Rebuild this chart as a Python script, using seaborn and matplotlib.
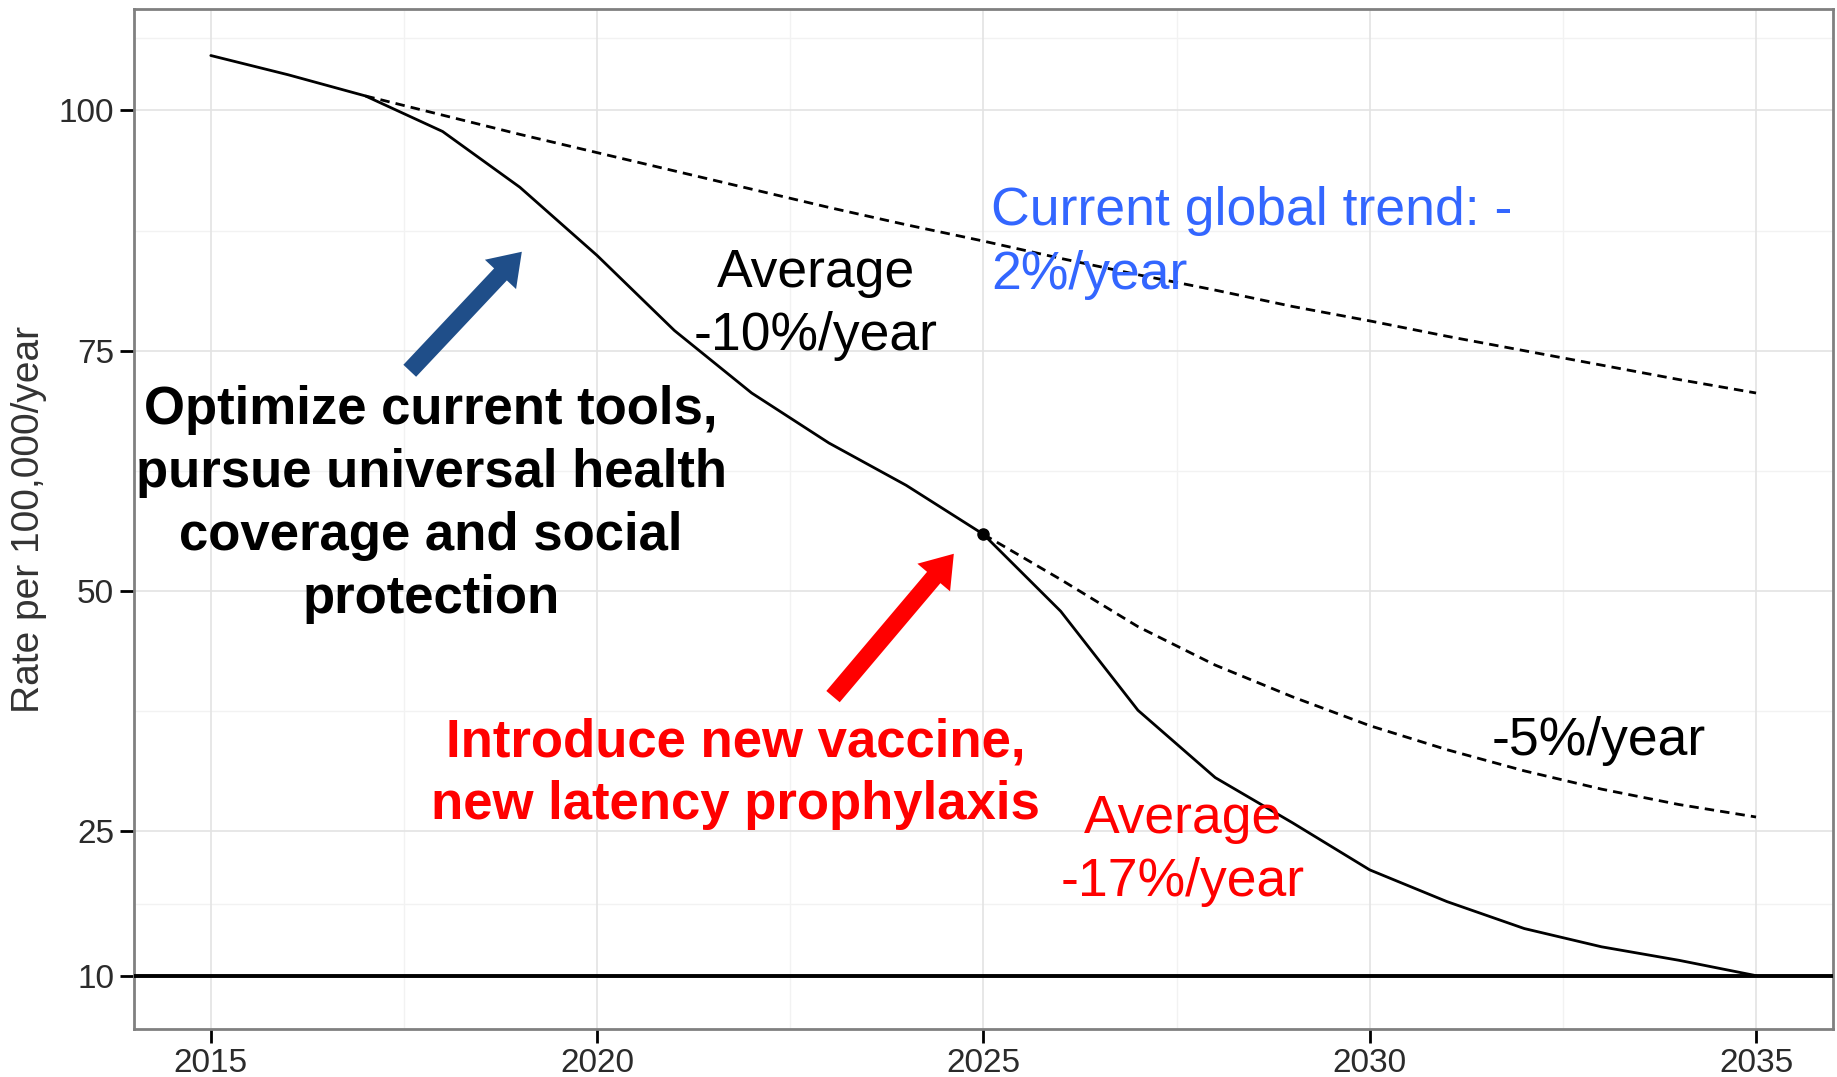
import numpy as np
import pandas as pd
import seaborn as sns
import matplotlib.pyplot as plt
from matplotlib.patches import FancyArrowPatch

# values
years = list(range(2015, 2036))
scenario_rate = [105.7, 103.7, 101.5, 97.8, 92.0, 84.9, 77.1, 70.6, 65.4, 61.0, 55.9,
                 47.9, 37.6, 30.6, 25.9, 21.0, 17.7, 14.9, 13.0, 11.6, 10.0]

trend_years = list(range(2017, 2036))
trend_rate = [101.5, 99.5, 97.5, 95.6, 93.7, 91.8, 89.9, 88.1, 86.4, 84.6,
              82.9, 81.3, 79.6, 78.1, 76.5, 75.0, 73.5, 72.0, 70.6]

mid_years = list(range(2025, 2036))
mid_rate = [55.9, 51.2, 46.3, 42.3, 39.0, 36.0, 33.5, 31.3, 29.4, 27.8, 26.5]

target = 10
y_ticks = [10, 25, 50, 75, 100]
x_ticks = [2015, 2020, 2025, 2030, 2035]

df_main = pd.DataFrame({'Year': years, 'Rate': scenario_rate})
df_trend = pd.DataFrame({'Year': trend_years, 'Rate': trend_rate})
df_mid = pd.DataFrame({'Year': mid_years, 'Rate': mid_rate})

sns.set_theme(style="whitegrid")
plt.rcParams['font.family'] = ['Liberation Sans', 'DejaVu Sans']

fig = plt.figure(figsize=(18.37, 10.77), dpi=100)
ax = fig.add_axes([0.0727, 0.045, 0.9253, 0.9463])

# grid (major + minor like ggplot)
ax.set_axisbelow(True)
for v in [17.5, 37.5, 62.5, 87.5, 107.5]:
    ax.axhline(v, color='#F2F2F2', lw=1.0, zorder=0)
for v in [2017.5, 2022.5, 2027.5, 2032.5]:
    ax.axvline(v, color='#F2F2F2', lw=1.0, zorder=0)

dash = (0, (3.4, 2.2))
sns.lineplot(data=df_trend, x='Year', y='Rate', ax=ax, color='black', lw=2.0, linestyle=dash)
sns.lineplot(data=df_mid, x='Year', y='Rate', ax=ax, color='black', lw=2.0, linestyle=dash)
sns.lineplot(data=df_main, x='Year', y='Rate', ax=ax, color='black', lw=2.0)
ax.axhline(target, color='black', lw=2.8, zorder=3)
ax.plot([2025], [scenario_rate[years.index(2025)]], 'o', color='black', ms=8, zorder=4)

ax.set_xlim(2014.0, 2036.0)
ax.set_ylim(4.5, 110.5)
ax.set_xticks(x_ticks)
ax.set_yticks(y_ticks)
ax.grid(True, color='#E3E3E3', lw=1.2)
ax.set_facecolor('white')
for s in ax.spines.values():
    s.set_color('#808080')
    s.set_linewidth(2)
ax.tick_params(axis='both', which='major', length=10, width=2, color='black',
               labelsize=24, labelcolor='#2B2B2B', pad=4, left=True, bottom=True)
ax.set_xlabel('')
ax.set_ylabel('Rate per 100,000/year', fontsize=28, color='#333333', labelpad=8)

# annotations
ls = 1.34
ax.text(2017.85, 59.0, 'Optimize current tools,\npursue universal health\ncoverage and social\nprotection',
        ha='center', va='center', fontsize=38, fontweight='bold', color='black', linespacing=ls)
ax.text(2021.79, 31.0, 'Introduce new vaccine,\nnew latency prophylaxis',
        ha='center', va='center', fontsize=38, fontweight='bold', color='#FF0000', linespacing=ls)
ax.text(2022.83, 79.8, 'Average\n-10%/year', ha='center', va='center', fontsize=38.5,
        color='black', linespacing=ls)
ax.text(2025.1, 86.2, 'Current global trend: -\n2%/year', ha='left', va='center',
        fontsize=38.5, color='#3366FF', linespacing=ls)
ax.text(2032.97, 34.4, '-5%/year', ha='center', va='center', fontsize=38.5, color='black')
ax.text(2027.58, 23.0, 'Average\n-17%/year', ha='center', va='center', fontsize=38.5,
        color='#FF0000', linespacing=ls)

arrow_style = 'simple,head_width=2.2,head_length=1.6,tail_width=0.9'
ax.add_patch(FancyArrowPatch((2017.55, 72.7), (2019.05, 85.5), arrowstyle=arrow_style,
                             mutation_scale=14, color='#1F4E89', lw=0, zorder=5))
ax.add_patch(FancyArrowPatch((2023.03, 38.8), (2024.64, 54.1), arrowstyle=arrow_style,
                             mutation_scale=14, color='#FF0000', lw=0, zorder=5))

fig.savefig('out.png', dpi=100, facecolor='white')
